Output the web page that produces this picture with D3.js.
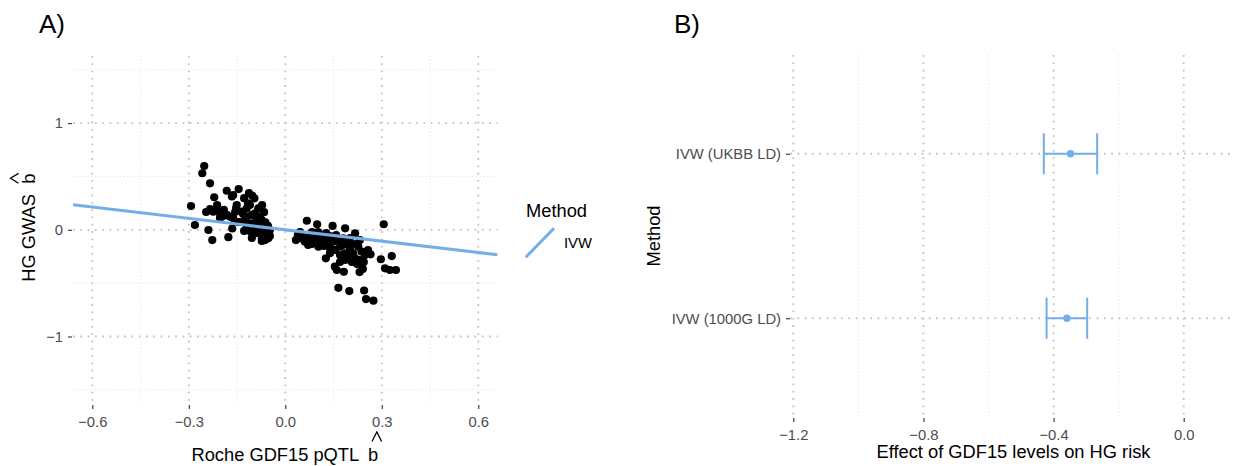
<!DOCTYPE html>
<html><head><meta charset="utf-8">
<script src="https://cdn.jsdelivr.net/npm/d3@7"></script>
<style>
html,body{margin:0;padding:0;background:#fff;}
svg text{font-family:"Liberation Sans",Arial,Helvetica,sans-serif;}
</style></head>
<body><svg id="c" width="1238" height="466"></svg>
<script>
// ---------- DATA ----------
const pqtlBeta = [-0.252,-0.258,-0.234,-0.221,-0.293,-0.281,-0.239,-0.227,-0.182,-0.145,-0.166,-0.162,-0.151,-0.153,-0.234,-0.224,-0.213,-0.203,-0.193,-0.182,-0.172,-0.162,-0.165,-0.177,-0.103,-0.096,-0.116,-0.120,-0.110,-0.084,-0.131,-0.120,-0.104,-0.094,-0.079,-0.089,-0.073,-0.062,-0.104,-0.094,-0.079,-0.108,-0.094,-0.079,-0.063,-0.073,-0.063,-0.053,-0.048,-0.120,-0.136,-0.058,-0.068,-0.141,-0.125,-0.072,-0.203,-0.073,
-0.128,-0.113,-0.072,-0.066,-0.054,-0.048,-0.088,-0.104,-0.128,-0.147,-0.156,-0.212,-0.191,-0.246,
0.067,0.099,0.147,0.186,0.217,0.306,0.056,0.061,0.077,0.092,0.108,0.123,0.134,0.149,0.165,0.180,0.191,0.154,0.170,0.186,0.201,0.211,0.227,0.237,0.248,0.265,0.126,0.186,0.217,0.232,0.154,0.160,0.182,0.231,0.241,0.165,0.199,0.245,0.251,0.274,0.297,0.331,0.310,0.325,0.344,0.049,0.071,0.103,0.039,0.083,0.114,0.139,0.201,0.170,0.139,0.223,0.207,0.033,
0.046,0.077,0.102,0.127,0.158,0.179,0.195,0.207,0.244,0.257,0.170,0.139,0.083,0.120,0.220,0.232];
const gwasBeta = [0.598,0.530,0.436,0.305,0.223,0.045,-0.002,-0.096,0.366,0.382,0.312,0.326,0.232,0.201,0.195,0.170,0.186,0.155,0.129,0.139,0.123,0.108,0.012,-0.069,0.321,0.295,0.248,0.201,0.232,0.201,0.148,0.123,0.139,0.155,0.123,0.092,0.092,0.070,0.061,0.045,0.045,-0.018,-0.033,-0.033,-0.049,-0.080,-0.096,-0.080,-0.058,0.029,0.170,0.014,-0.065,0.073,0.092,0.017,0.111,-0.105,
0.296,0.343,0.232,0.165,0.036,-0.002,0.017,-0.077,-0.011,0.073,0.167,0.232,0.186,0.167,
0.085,0.052,0.036,0.014,-0.033,0.052,-0.065,-0.112,-0.096,-0.080,-0.112,-0.096,-0.127,-0.112,-0.096,-0.080,-0.127,-0.189,-0.158,-0.220,-0.173,-0.220,-0.158,-0.205,-0.236,-0.230,-0.267,-0.283,-0.267,-0.283,-0.346,-0.377,-0.393,-0.396,-0.367,-0.544,-0.574,-0.569,-0.649,-0.664,-0.276,-0.246,-0.361,-0.377,-0.377,-0.080,-0.142,-0.158,-0.049,-0.021,-0.049,-0.058,-0.077,-0.302,-0.171,-0.321,-0.133,-0.096,
-0.021,-0.058,-0.021,-0.030,-0.049,-0.143,-0.246,-0.302,-0.302,-0.190,-0.236,-0.218,-0.133,-0.152,-0.133,-0.096];
const ivwSlope = -0.355;
const legendMethods = ["IVW"];

const methods = ["IVW (1000G LD)", "IVW (UKBB LD)"];
const estimate = [-0.359, -0.348];
const lower = [-0.4215, -0.430];
const upper = [-0.2966, -0.266];

const xTicksA = [-0.6,-0.3,0,0.3,0.6];
const xMinorA = [-0.45,-0.15,0.15,0.45];
const yTicksA = [-1,0,1];
const yMinorA = [-1.5,-0.5,0.5,1.5];
const xTicksB = [-1.2,-0.8,-0.4,0.0];
const xMinorB = [-1.0,-0.6,-0.2];

// ---------- STYLE ----------
const blue = "#74AEE8";
const tickCol = "#333333", labCol = "#4d4d4d";
const tickFont = "14.8px", titleFont = "18.3px";
const svg = d3.select("#c");

function majorGrid(sel){ sel.attr("stroke","#c4c4c4").attr("stroke-width",1.8).attr("stroke-dasharray","1.8,5.5").attr("fill","none"); }
function minorGrid(sel){ sel.attr("stroke","#dadada").attr("stroke-width",0.9).attr("stroke-dasharray","0.9,2.7").attr("fill","none"); }

// ---------- PANEL A ----------
const A = {l:73.0, r:497.6, t:55.9, b:403.7};
const xA = d3.scaleLinear().domain([-0.66,0.66]).range([A.l,A.r]);
const yA = d3.scaleLinear().domain([-1.63,1.63]).range([A.b,A.t]);
const gA = svg.append("g");

gA.append("g").selectAll("line").data(xMinorA).join("line")
  .attr("x1",d=>xA(d)).attr("x2",d=>xA(d)).attr("y1",A.t).attr("y2",A.b).call(minorGrid);
gA.append("g").selectAll("line").data(yMinorA).join("line")
  .attr("y1",d=>yA(d)).attr("y2",d=>yA(d)).attr("x1",A.l).attr("x2",A.r).call(minorGrid);
gA.append("g").selectAll("line").data(xTicksA).join("line")
  .attr("x1",d=>xA(d)).attr("x2",d=>xA(d)).attr("y1",A.t).attr("y2",A.b).call(majorGrid);
gA.append("g").selectAll("line").data(yTicksA).join("line")
  .attr("y1",d=>yA(d)).attr("y2",d=>yA(d)).attr("x1",A.l).attr("x2",A.r).call(majorGrid);

const axXA = d3.axisBottom(xA).tickValues(xTicksA).tickSize(4).tickPadding(4)
  .tickFormat(d=>d3.format(".1f")(d).replace("-","\u2212"));
gA.append("g").attr("transform",`translate(0,${A.b+1.3})`).call(axXA)
  .call(g=>{g.select(".domain").remove();
    g.selectAll("line").attr("stroke",tickCol).attr("stroke-width",1.1);
    g.selectAll("text").attr("fill",labCol).style("font-size",tickFont).attr("dy","0.95em");});
const axYA = d3.axisLeft(yA).tickValues(yTicksA).tickSize(4).tickPadding(5)
  .tickFormat(d=>String(d).replace("-","\u2212"));
gA.append("g").attr("transform",`translate(${A.l-1},0)`).call(axYA)
  .call(g=>{g.select(".domain").remove();
    g.selectAll("line").attr("stroke",tickCol).attr("stroke-width",1.1);
    g.selectAll("text").attr("fill",labCol).style("font-size",tickFont);});

const pts = pqtlBeta.map((x,i)=>({x, y:gwasBeta[i]}));
gA.append("g").selectAll("circle").data(pts).join("circle")
  .attr("cx",d=>xA(d.x)).attr("cy",d=>yA(d.y)).attr("r",4.1).attr("fill","#000");

svg.append("defs").append("clipPath").attr("id","clipA").append("rect")
  .attr("x",A.l).attr("y",A.t).attr("width",A.r-A.l).attr("height",A.b-A.t);
gA.append("line").attr("clip-path","url(#clipA)")
  .attr("x1",xA(-0.66)).attr("y1",yA(-0.66*ivwSlope))
  .attr("x2",xA(0.66)).attr("y2",yA(0.66*ivwSlope))
  .attr("stroke",blue).attr("stroke-width",3);

// axis titles A: "... hat(b)" – plotmath draws the hat as a stroked polyline
const hat = d3.line();
gA.append("text").attr("x",191.5).attr("y",461).style("font-size",titleFont).attr("fill","#000").text("Roche GDF15 pQTL");
gA.append("text").attr("x",368).attr("y",461).style("font-size",titleFont).attr("fill","#000").text("b");
gA.append("path").attr("d",hat([[372,441.5],[376.8,432],[381.6,441.5]]))
  .attr("fill","none").attr("stroke","#000").attr("stroke-width",1.3);

const yt = gA.append("g").attr("transform","translate(35,281.7) rotate(-90)");
yt.append("text").attr("x",0).attr("y",0).style("font-size",titleFont).attr("fill","#000").text("HG GWAS");
yt.append("text").attr("x",98).attr("y",0).style("font-size",titleFont).attr("fill","#000").text("b");
yt.append("path").attr("d",hat([[98.5,-16.5],[103.4,-24.5],[108.3,-16.5]]))
  .attr("fill","none").attr("stroke","#000").attr("stroke-width",1.3);

// legend
svg.append("text").attr("x",526).attr("y",216.7).style("font-size",titleFont).attr("fill","#000").text("Method");
svg.append("g").selectAll("g").data(legendMethods).join("g").each(function(d,i){
  const g = d3.select(this);
  g.append("line").attr("x1",525.7).attr("y1",257.3+i*30).attr("x2",554).attr("y2",228.3+i*30)
   .attr("stroke",blue).attr("stroke-width",3);
  g.append("text").attr("x",564).attr("y",248+i*30).style("font-size",tickFont).attr("fill","#000").text(d);
});

svg.append("text").attr("x",39).attr("y",33).style("font-size","26px").attr("fill","#000").text("A)");

// ---------- PANEL B ----------
const B = {l:790, r:1231, t:55, b:417};
const xB = d3.scaleLinear().domain([(790-1183.7)/325.33, (1231-1183.7)/325.33]).range([B.l,B.r]);
const yB = d3.scalePoint().domain(methods).range([B.b,B.t]).padding(0.6);
const step = yB.step();
const gB = svg.append("g");

gB.append("g").selectAll("line").data(xMinorB).join("line")
  .attr("x1",d=>xB(d)).attr("x2",d=>xB(d)).attr("y1",B.t).attr("y2",B.b).call(minorGrid);
gB.append("g").selectAll("line").data(xTicksB).join("line")
  .attr("x1",d=>xB(d)).attr("x2",d=>xB(d)).attr("y1",B.t).attr("y2",B.b).call(majorGrid);
gB.append("g").selectAll("line").data(methods).join("line")
  .attr("y1",d=>yB(d)).attr("y2",d=>yB(d)).attr("x1",B.l).attr("x2",B.r).call(majorGrid);

const axXB = d3.axisBottom(xB).tickValues(xTicksB).tickSize(4).tickPadding(4)
  .tickFormat(d=>d3.format(".1f")(d).replace("-","\u2212"));
gB.append("g").attr("transform",`translate(0,${B.b+1})`).call(axXB)
  .call(g=>{g.select(".domain").remove();
    g.selectAll("line").attr("stroke",tickCol).attr("stroke-width",1.1);
    g.selectAll("text").attr("fill",labCol).style("font-size",tickFont).attr("dy","0.95em");});
const axYB = d3.axisLeft(yB).tickSize(4).tickPadding(5);
gB.append("g").attr("transform",`translate(${B.l},0)`).call(axYB)
  .call(g=>{g.select(".domain").remove();
    g.selectAll("line").attr("stroke",tickCol).attr("stroke-width",1.1);
    g.selectAll("text").attr("fill",labCol).style("font-size",tickFont);});

const eb = methods.map((m,i)=>({m, est:estimate[i], lo:lower[i], hi:upper[i]}));
const ebG = gB.append("g").selectAll("g").data(eb).join("g");
ebG.append("line").attr("x1",d=>xB(d.lo)).attr("x2",d=>xB(d.hi))
  .attr("y1",d=>yB(d.m)).attr("y2",d=>yB(d.m)).attr("stroke",blue).attr("stroke-width",2);
ebG.append("line").attr("x1",d=>xB(d.lo)).attr("x2",d=>xB(d.lo))
  .attr("y1",d=>yB(d.m)-step*0.125).attr("y2",d=>yB(d.m)+step*0.125).attr("stroke",blue).attr("stroke-width",2);
ebG.append("line").attr("x1",d=>xB(d.hi)).attr("x2",d=>xB(d.hi))
  .attr("y1",d=>yB(d.m)-step*0.125).attr("y2",d=>yB(d.m)+step*0.125).attr("stroke",blue).attr("stroke-width",2);
ebG.append("circle").attr("cx",d=>xB(d.est)).attr("cy",d=>yB(d.m)).attr("r",3.7).attr("fill",blue);

gB.append("text").attr("x",1013.5).attr("y",458).attr("text-anchor","middle")
  .style("font-size",titleFont).attr("fill","#000").text("Effect of GDF15 levels on HG risk");
gB.append("text").attr("transform",`translate(660,${(B.t+B.b)/2}) rotate(-90)`).attr("text-anchor","middle")
  .style("font-size",titleFont).attr("fill","#000").text("Method");
svg.append("text").attr("x",674).attr("y",33).style("font-size","26px").attr("fill","#000").text("B)");
</script></body></html>
